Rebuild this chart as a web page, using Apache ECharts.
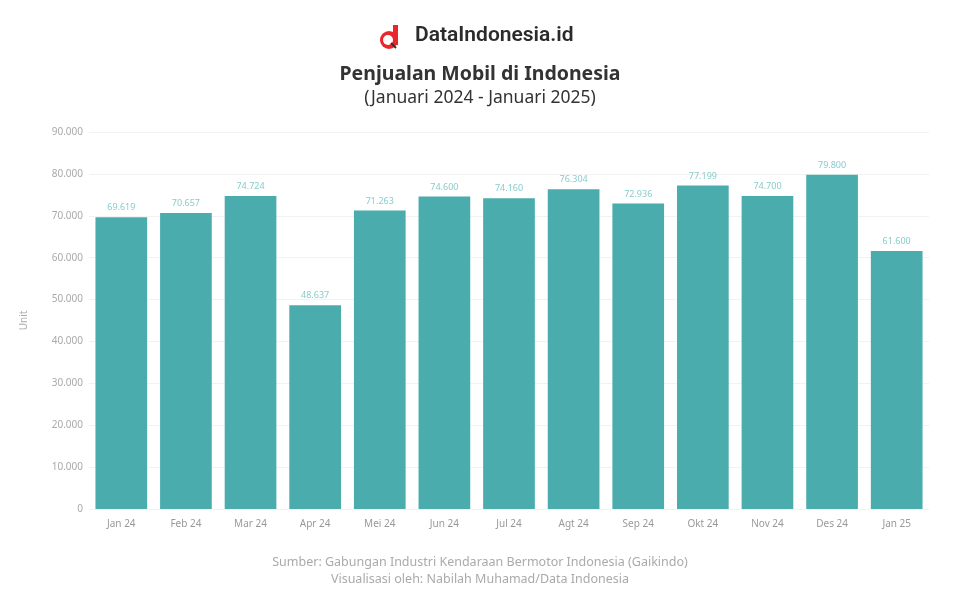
<!DOCTYPE html>
<html><head><meta charset="utf-8">
<script src="https://cdn.jsdelivr.net/npm/echarts@6/dist/echarts.min.js"></script>
<style>html,body{margin:0;padding:0;background:#fff}#c{width:960px;height:600px}</style>
</head><body><div id="c"></div>
<script>
const categories = ["Jan 24","Feb 24","Mar 24","Apr 24","Mei 24","Jun 24","Jul 24","Agt 24","Sep 24","Okt 24","Nov 24","Des 24","Jan 25"];
const sales = [69619, 70657, 74724, 48637, 71263, 74600, 74160, 76304, 72936, 77199, 74700, 79800, 61600];
const yTicks = {min: 0, max: 90000, interval: 10000};
const fmt = v => String(v).replace(/\B(?=(\d{3})+(?!\d))/g, '.');
const chart = echarts.init(document.getElementById('c'));
chart.setOption({
  animation: false,
  textStyle: {fontFamily: 'Noto Sans'},
  graphic: [
    {type: 'circle', shape: {cx: 389, cy: 40, r: 9}, style: {fill: '#e8262b'}},
    {type: 'rect', shape: {x: 393, y: 25, width: 5, height: 20}, style: {fill: '#e8262b'}},
    {type: 'circle', shape: {cx: 388, cy: 40, r: 5}, style: {fill: '#fff'}},
    {type: 'line', shape: {x1: 391, y1: 43, x2: 396, y2: 48}, style: {stroke: '#333', lineWidth: 2}},
    {type: 'text', left: 415, top: 25, style: {text: 'DataIndonesia.id', font: '600 21px Roboto', fill: '#2b2b2b'}},
    {type: 'text', left: 'center', top: 64, style: {text: 'Penjualan Mobil di Indonesia', font: 'bold 19.5px "Noto Sans"', fill: '#333'}},
    {type: 'text', left: 'center', top: 89, style: {text: '(Januari 2024 - Januari 2025)', font: '17.5px "Noto Sans"', fill: '#333'}},
    {type: 'text', left: 'center', top: 556, style: {text: 'Sumber: Gabungan Industri Kendaraan Bermotor Indonesia (Gaikindo)', font: '12.5px "Noto Sans"', fill: '#aaa'}},
    {type: 'text', left: 'center', top: 573, style: {text: 'Visualisasi oleh: Nabilah Muhamad/Data Indonesia', font: '12.5px "Noto Sans"', fill: '#aaa'}}
  ],
  grid: {left: 89, right: 31, top: 132, bottom: 91},
  xAxis: {
    type: 'category', data: categories,
    axisLine: {show: false}, axisTick: {show: false},
    axisLabel: {color: '#999', fontSize: 10, margin: 10}
  },
  yAxis: {
    type: 'value', min: yTicks.min, max: yTicks.max, interval: yTicks.interval,
    name: 'Unit', nameLocation: 'middle', nameGap: 60, nameRotate: 90,
    nameTextStyle: {color: '#aaa', fontSize: 10},
    axisLabel: {color: '#aaa', fontSize: 10, margin: 6, formatter: v => fmt(v)},
    splitLine: {lineStyle: {color: '#f2f2f2'}}
  },
  series: [{
    type: 'bar', data: sales, barCategoryGap: '20%',
    itemStyle: {color: '#4aacac'},
    label: {show: true, position: 'top', color: '#8cc', fontSize: 9, formatter: p => fmt(p.value)}
  }]
});
</script></body></html>
